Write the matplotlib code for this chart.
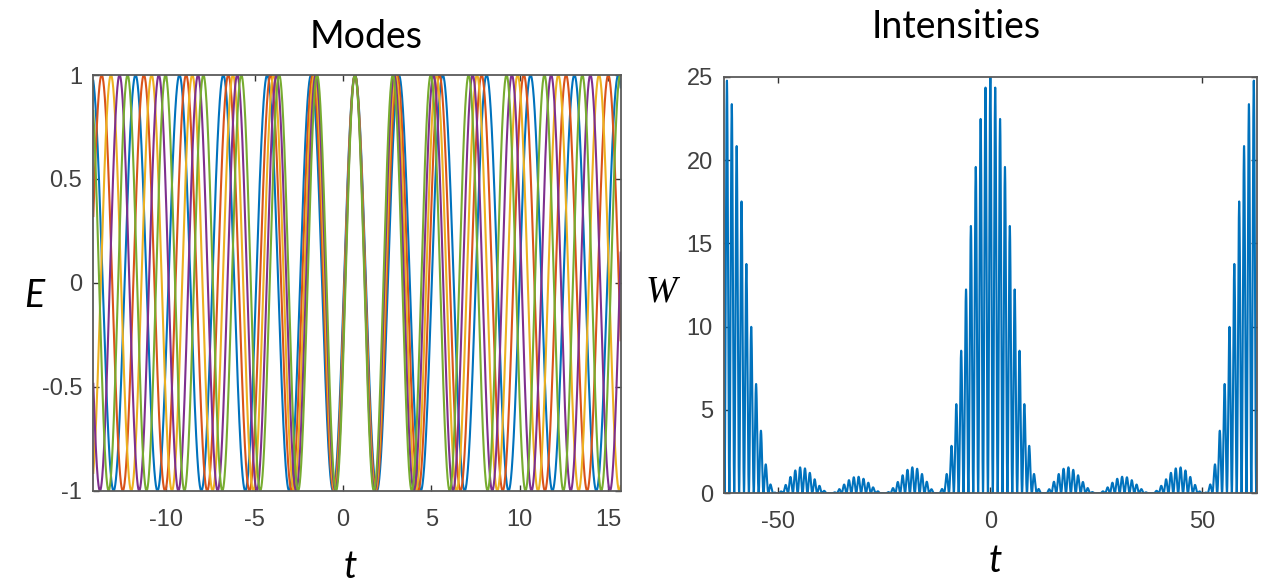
import numpy as np
import matplotlib
matplotlib.use("Agg")
import matplotlib.pyplot as plt

plt.rcParams["font.family"] = ["Liberation Sans", "DejaVu Sans"]
plt.rcParams["axes.unicode_minus"] = False

# ---- data ----
mode_freqs = [2.53, 2.63, 2.73, 2.83, 2.93]      # angular frequencies of the 5 modes
mode_colors = ["#0072BD", "#D95319", "#EDB120", "#7E2F8E", "#77AC30"]
sync_time = 0.67                                   # time where the modes are in phase (left panel)
modes_tlim = [-4.5 * np.pi, 5 * np.pi]
intens_tlim = [-20 * np.pi, 20 * np.pi]
modes_xticks = [-10, -5, 0, 5, 10, 15]
modes_yticks = [-1, -0.5, 0, 0.5, 1]
modes_yticklabels = ["-1", "-0.5", "0", "0.5", "1"]
intens_xticks = [-50, 0, 50]
intens_yticks = [0, 5, 10, 15, 20, 25]

W_px, H_px = 1261, 586
fig = plt.figure(figsize=(W_px / 100, H_px / 100), dpi=100)

def ax_rect(x0, y0, x1, y1):
    return [x0 / W_px, 1 - y1 / H_px, (x1 - x0) / W_px, (y1 - y0) / H_px]

ax1 = fig.add_axes(ax_rect(93.3, 75.0, 620.7, 490.7))
ax2 = fig.add_axes(ax_rect(724.0, 76.7, 1256.7, 493.3))

for ax in (ax1, ax2):
    for s in ax.spines.values():
        s.set_color("#5a5a5a")
        s.set_linewidth(1.3)
    ax.tick_params(direction="in", length=4, width=1.0, color="#333333",
                   top=True, right=True, labelcolor="#404040", labelsize=17)
    ax.tick_params(axis="x", pad=13)
    ax.tick_params(axis="y", pad=8)

# ---- left: modes ----
t1 = np.linspace(modes_tlim[0], modes_tlim[1], 6000)
for w, c in zip(mode_freqs, mode_colors):
    ax1.plot(t1, np.cos(w * (t1 - sync_time)), color=c, lw=1.5)
ax1.set_xlim(modes_tlim)
ax1.set_ylim(-1, 1)
ax1.set_xticks(modes_xticks)
ax1.set_yticks(modes_yticks)
ax1.set_yticklabels(modes_yticklabels)

# ---- right: intensity ----
t2 = np.linspace(intens_tlim[0], intens_tlim[1], 40000)
field = np.zeros_like(t2)
for w in mode_freqs:
    field += np.cos(w * t2)
ax2.plot(t2, field ** 2, color="#0072BD", lw=1.5)
ax2.set_xlim(intens_tlim)
ax2.set_ylim(0, 25)
ax2.set_xticks(intens_xticks)
ax2.set_yticks(intens_yticks)

# ---- titles and axis labels ----
def fx(x): return x / W_px
def fy(y): return 1 - y / H_px

fig.text(fx(366), fy(37), "Modes", ha="center", va="center", family="Lato", fontsize=27)
fig.text(fx(956), fy(27), "Intensities", ha="center", va="center", family="Lato", fontsize=27)
fig.text(fx(34), fy(296), "E", ha="center", va="center", family="Lato", style="italic", fontsize=27)
fig.text(fx(661), fy(292), "W", ha="center", va="center", family="Liberation Serif", style="italic", fontsize=27)
fig.text(fx(350), fy(567), "t", ha="center", va="center", family="Lato", style="italic", fontsize=27)
fig.text(fx(995), fy(561), "t", ha="center", va="center", family="Lato", style="italic", fontsize=27)

fig.savefig("out.png", dpi=100)
